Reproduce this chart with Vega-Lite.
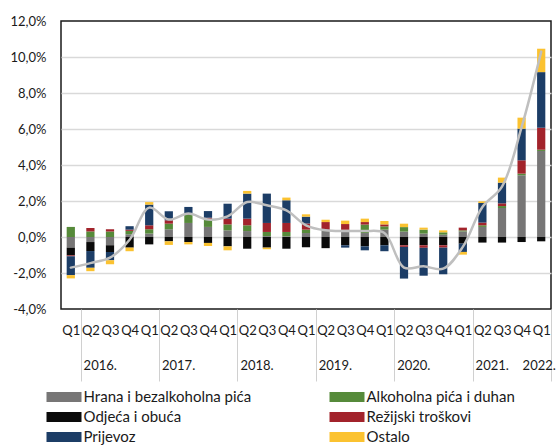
{
  "$schema": "https://vega.github.io/schema/vega-lite/v6.json",
  "width": 490,
  "height": 288,
  "autosize": {"type": "none"},
  "padding": {"left": 61, "top": 21, "right": 5, "bottom": 136},
  "background": "white",
  "config": {
    "font": "Lato",
    "view": {"stroke": "#1a1a1a", "strokeWidth": 1.5},
    "axis": {"labelFont": "Lato", "labelFontSize": 13, "labelColor": "#1a1a1a"},
    "legend": {
      "orient": "none",
      "legendX": -7,
      "legendY": 366,
      "columns": 2,
      "columnPadding": 77,
      "rowPadding": 2,
      "symbolType": "M-1.75,-0.5L1.75,-0.5L1.75,0.5L-1.75,0.5Z",
      "symbolSize": 400,
      "symbolStrokeWidth": 0,
      "symbolOpacity": 1,
      "labelFont": "Lato",
      "labelFontSize": 15,
      "labelColor": "#1a1a1a",
      "labelOffset": 9.5,
      "labelLimit": 400
    }
  },
  "datasets": {
    "cpi": [
      {"kvartal": "2016 Q1", "hrana": -0.59, "alkohol": 0.56, "odjeca": -0.43, "rezije": -0.05, "prijevoz": -1.05, "ostalo": -0.18, "ukupno": -1.7},
      {"kvartal": "2016 Q2", "hrana": -0.28, "alkohol": 0.31, "odjeca": -0.5, "rezije": 0.19, "prijevoz": -0.93, "ostalo": -0.19, "ukupno": -1.45},
      {"kvartal": "2016 Q3", "hrana": -0.46, "alkohol": 0.3, "odjeca": -0.37, "rezije": 0.13, "prijevoz": -0.46, "ostalo": -0.22, "ukupno": -1.15},
      {"kvartal": "2016 Q4", "hrana": 0.15, "alkohol": 0.19, "odjeca": -0.59, "rezije": 0.07, "prijevoz": 0.19, "ostalo": -0.2, "ukupno": -0.15},
      {"kvartal": "2017 Q1", "hrana": 0.19, "alkohol": 0.24, "odjeca": -0.41, "rezije": 0.22, "prijevoz": 1.15, "ostalo": 0.14, "ukupno": 1.63},
      {"kvartal": "2017 Q2", "hrana": 0.43, "alkohol": 0.31, "odjeca": -0.24, "rezije": 0.19, "prijevoz": 0.5, "ostalo": -0.2, "ukupno": 0.97},
      {"kvartal": "2017 Q3", "hrana": 0.78, "alkohol": 0.47, "odjeca": -0.28, "rezije": 0.05, "prijevoz": 0.37, "ostalo": -0.13, "ukupno": 1.3},
      {"kvartal": "2017 Q4", "hrana": 0.56, "alkohol": 0.4, "odjeca": -0.33, "rezije": 0.11, "prijevoz": 0.37, "ostalo": -0.17, "ukupno": 0.97},
      {"kvartal": "2018 Q1", "hrana": 0.37, "alkohol": 0.33, "odjeca": -0.52, "rezije": 0.32, "prijevoz": 0.83, "ostalo": -0.22, "ukupno": 1.15},
      {"kvartal": "2018 Q2", "hrana": 0.33, "alkohol": 0.32, "odjeca": -0.65, "rezije": 0.37, "prijevoz": 1.39, "ostalo": 0.15, "ukupno": 1.94},
      {"kvartal": "2018 Q3", "hrana": 0.05, "alkohol": 0.23, "odjeca": -0.59, "rezije": 0.5, "prijevoz": 1.63, "ostalo": -0.09, "ukupno": 1.76},
      {"kvartal": "2018 Q4", "hrana": 0.04, "alkohol": 0.24, "odjeca": -0.65, "rezije": 0.5, "prijevoz": 1.26, "ostalo": 0.15, "ukupno": 1.48},
      {"kvartal": "2019 Q1", "hrana": 0.22, "alkohol": 0.19, "odjeca": -0.57, "rezije": 0.34, "prijevoz": 0.38, "ostalo": 0.13, "ukupno": 0.65},
      {"kvartal": "2019 Q2", "hrana": 0.33, "alkohol": 0.05, "odjeca": -0.62, "rezije": 0.45, "prijevoz": 0.0, "ostalo": 0.13, "ukupno": 0.37},
      {"kvartal": "2019 Q3", "hrana": 0.3, "alkohol": 0.1, "odjeca": -0.46, "rezije": 0.32, "prijevoz": -0.13, "ostalo": 0.19, "ukupno": 0.33},
      {"kvartal": "2019 Q4", "hrana": 0.22, "alkohol": 0.47, "odjeca": -0.52, "rezije": 0.14, "prijevoz": -0.22, "ostalo": 0.19, "ukupno": 0.33},
      {"kvartal": "2020 Q1", "hrana": 0.41, "alkohol": 0.18, "odjeca": -0.46, "rezije": 0.11, "prijevoz": -0.33, "ostalo": 0.19, "ukupno": 0.22},
      {"kvartal": "2020 Q2", "hrana": 0.3, "alkohol": 0.25, "odjeca": -0.46, "rezije": -0.09, "prijevoz": -1.76, "ostalo": 0.19, "ukupno": -1.7},
      {"kvartal": "2020 Q3", "hrana": 0.19, "alkohol": 0.22, "odjeca": -0.46, "rezije": -0.14, "prijevoz": -1.55, "ostalo": 0.11, "ukupno": -1.63},
      {"kvartal": "2020 Q4", "hrana": 0.13, "alkohol": 0.13, "odjeca": -0.46, "rezije": -0.13, "prijevoz": -1.48, "ostalo": 0.11, "ukupno": -1.76},
      {"kvartal": "2021 Q1", "hrana": 0.31, "alkohol": 0.06, "odjeca": -0.37, "rezije": 0.15, "prijevoz": -0.46, "ostalo": -0.15, "ukupno": -0.55},
      {"kvartal": "2021 Q2", "hrana": 0.56, "alkohol": 0.09, "odjeca": -0.31, "rezije": 0.15, "prijevoz": 1.09, "ostalo": 0.09, "ukupno": 1.67},
      {"kvartal": "2021 Q3", "hrana": 1.61, "alkohol": 0.11, "odjeca": -0.31, "rezije": 0.15, "prijevoz": 1.15, "ostalo": 0.28, "ukupno": 2.8},
      {"kvartal": "2021 Q4", "hrana": 3.43, "alkohol": 0.09, "odjeca": -0.28, "rezije": 0.74, "prijevoz": 1.76, "ostalo": 0.61, "ukupno": 6.1},
      {"kvartal": "2022 Q1", "hrana": 4.78, "alkohol": 0.07, "odjeca": -0.24, "rezije": 1.22, "prijevoz": 3.09, "ostalo": 1.3, "ukupno": 10.3}
    ],
    "serije": [
      {"kljuc": "hrana", "kategorija": "Hrana i bezalkoholna pića", "redoslijed": 1},
      {"kljuc": "alkohol", "kategorija": "Alkoholna pića i duhan", "redoslijed": 2},
      {"kljuc": "odjeca", "kategorija": "Odjeća i obuća", "redoslijed": 3},
      {"kljuc": "rezije", "kategorija": "Režijski troškovi", "redoslijed": 4},
      {"kljuc": "prijevoz", "kategorija": "Prijevoz", "redoslijed": 5},
      {"kljuc": "ostalo", "kategorija": "Ostalo", "redoslijed": 6}
    ],
    "godine": [
      {"kvartal": "2016 Q2", "godina": "2016."},
      {"kvartal": "2017 Q2", "godina": "2017."},
      {"kvartal": "2018 Q2", "godina": "2018."},
      {"kvartal": "2019 Q2", "godina": "2019."},
      {"kvartal": "2020 Q2", "godina": "2020."},
      {"kvartal": "2021 Q2", "godina": "2021."}
    ],
    "zadnja": [
      {"kvartal": "2022 Q1", "godina": "2022."}
    ]
  },
  "layer": [
    {
      "data": {"name": "cpi"},
      "transform": [
        {"fold": ["hrana", "alkohol", "odjeca", "rezije", "prijevoz", "ostalo"], "as": ["kljuc", "doprinos"]},
        {"lookup": "kljuc", "from": {"data": {"name": "serije"}, "key": "kljuc", "fields": ["kategorija", "redoslijed"]}}
      ],
      "mark": {"type": "bar", "width": {"band": 0.42}},
      "encoding": {
        "x": {
          "field": "kvartal",
          "type": "ordinal",
          "scale": {"paddingInner": 0, "paddingOuter": 0},
          "axis": {
            "title": null,
            "orient": "bottom",
            "labelExpr": "split(datum.value, ' ')[1]",
            "labelAngle": 0,
            "domain": false,
            "grid": false,
            "tickBand": "extent",
            "tickSize": 72,
            "tickWidth": 1,
            "tickColor": {"condition": {"test": "isString(datum.value) && indexof(datum.value, 'Q1') >= 0", "value": "#d0d0d0"}, "value": "rgba(0,0,0,0)"},
            "labelPadding": -57,
            "labelFontSize": 13
          }
        },
        "y": {
          "field": "doprinos",
          "type": "quantitative",
          "stack": "zero",
          "scale": {"domain": [-4, 12], "nice": false},
          "axis": {
            "title": null,
            "values": [-4, -2, 0, 2, 4, 6, 8, 10, 12],
            "tickCount": 9,
            "labelOverlap": false,
            "labelExpr": "(datum.value < 0 ? '-' : '') + replace(format(abs(datum.value), '.1f'), '.', ',') + '%'",
            "grid": true,
            "gridColor": {"condition": {"test": "datum.value == -4 || datum.value == 12", "value": "rgba(0,0,0,0)"}, "value": "#d9d9d9"},
            "gridWidth": 1.5,
            "ticks": false,
            "domain": false,
            "labelPadding": 15
          }
        },
        "color": {
          "field": "kategorija",
          "type": "nominal",
          "scale": {
            "domain": ["Hrana i bezalkoholna pića", "Odjeća i obuća", "Prijevoz", "Alkoholna pića i duhan", "Režijski troškovi", "Ostalo"],
            "range": ["#777676", "#0a0a0a", "#1c3d66", "#568a3a", "#a2232b", "#fbc230"]
          },
          "legend": {"title": null}
        },
        "order": {"field": "redoslijed", "type": "quantitative"}
      }
    },
    {
      "data": {"name": "cpi"},
      "mark": {"type": "line", "interpolate": "catmull-rom", "color": "#bfbfbf", "strokeWidth": 2.5, "strokeCap": "round"},
      "encoding": {
        "x": {"field": "kvartal", "type": "ordinal"},
        "y": {
          "field": "ukupno",
          "type": "quantitative",
          "axis": {
            "title": null,
            "values": [-4, -2, 0, 2, 4, 6, 8, 10, 12],
            "tickCount": 9,
            "labelOverlap": false,
            "labelExpr": "(datum.value < 0 ? '-' : '') + replace(format(abs(datum.value), '.1f'), '.', ',') + '%'",
            "grid": true,
            "gridColor": {"condition": {"test": "datum.value == -4 || datum.value == 12", "value": "rgba(0,0,0,0)"}, "value": "#d9d9d9"},
            "gridWidth": 1.5,
            "ticks": false,
            "domain": false,
            "labelPadding": 15
          }
        }
      }
    },
    {
      "data": {"name": "godine"},
      "mark": {"type": "text", "dx": 9.8, "dy": 57, "fontSize": 13, "font": "Lato", "color": "#1a1a1a", "baseline": "middle"},
      "encoding": {
        "x": {"field": "kvartal", "type": "ordinal"},
        "y": {"datum": -4, "type": "quantitative"},
        "text": {"field": "godina"}
      }
    },
    {
      "data": {"name": "zadnja"},
      "mark": {"type": "text", "dx": -2, "dy": 57, "fontSize": 13, "font": "Lato", "color": "#1a1a1a", "baseline": "middle"},
      "encoding": {
        "x": {"field": "kvartal", "type": "ordinal"},
        "y": {"datum": -4, "type": "quantitative"},
        "text": {"field": "godina"}
      }
    }
  ]
}
